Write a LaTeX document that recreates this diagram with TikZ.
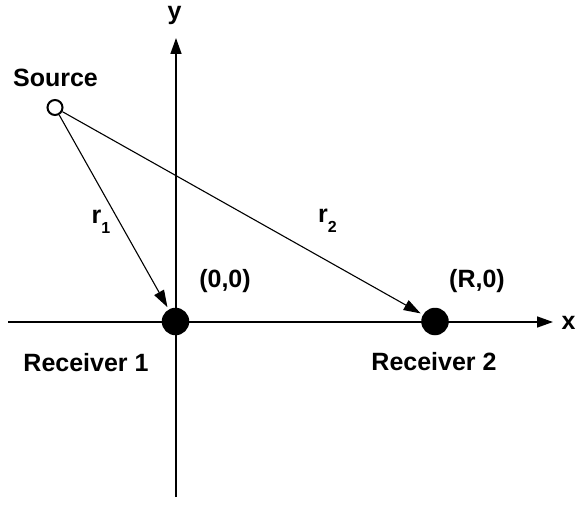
\documentclass[tikz,border=0pt]{standalone}
\usepackage{fontspec}
\setmainfont{Liberation Sans}
\usetikzlibrary{arrows.meta}
\begin{document}
\begin{tikzpicture}[x=1pt,y=1pt,
  lbl/.style={font=\fontsize{25}{28}\selectfont\bfseries, inner sep=0pt},
  axis/.style={line width=1.5pt, -{Triangle[length=16pt,width=11pt]}},
  ray/.style={line width=1.1pt, -{Triangle[length=17pt,width=11pt]}, shorten >=2.5pt},
  dot/.style={circle, fill=black, minimum size=27.5pt, inner sep=0pt},
  src/.style={circle, draw=black, line width=2pt, fill=white, minimum size=15pt, inner sep=0pt}]
\useasboundingbox (0,0) rectangle (576,515);
% axes
\coordinate (xl) at (8,193);
\coordinate (xr) at (553,193);
\coordinate (yb) at (176,18);
\coordinate (yt) at (176,477);
\draw[axis] (xl) -- (xr);
\draw[axis] (yb) -- (yt);
% nodes
\node[dot] (r1) at (175.5,193.5) {};
\node[dot] (r2) at (435,193.5) {};
\node[src] (s) at (55,407.5) {};
% rays
\draw[ray] (s) -- (r1);
\draw[ray] (s) -- (r2);
% labels
\node[lbl, anchor=base] (ylab) at (174.5,495.5) {y};
\node[lbl, anchor=base west] (xlab) at (561.5,186) {x};
\node[lbl, anchor=base] (slab) at (55.5,428.3) {Source};
\node[lbl, anchor=base] (o) at (225,227.5) {(0,0)};
\node[lbl, anchor=base] (rz) at (477,227.5) {(R,0)};
\node[lbl, anchor=base] (rc1) at (86,143.3) {Receiver 1};
\node[lbl, anchor=base] (rc2) at (434,144.5) {Receiver 2};
\node[lbl, anchor=base west] (d1) at (91.5,291.7) {r\raisebox{-0.4em}{\fontsize{16}{16}\selectfont 1}};
\node[lbl, anchor=base west] (d2) at (318,292) {r\raisebox{-0.4em}{\fontsize{16}{16}\selectfont 2}};
\end{tikzpicture}
\end{document}
